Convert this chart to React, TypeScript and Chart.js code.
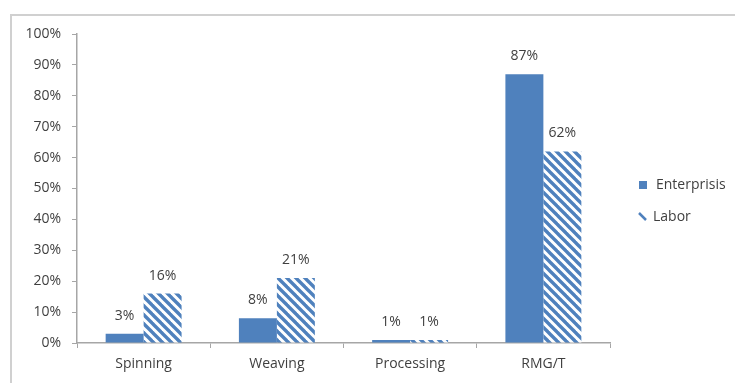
import React, { useEffect, useRef } from "react";
import { Chart, registerables } from "chart.js";

Chart.register(...registerables);

const categories = ["Spinning", "Weaving", "Processing", "RMG/T"];
const enterprisisValues = [3, 8, 1, 87];
const laborValues = [16, 21, 1, 62];
const yTicks = [0, 10, 20, 30, 40, 50, 60, 70, 80, 90, 100];

const BLUE = "#4F81BD";
const TEXT = "#3F3F3F";
const AXIS = "#A6A6A6";
const FONT = "'Open Sans', 'DejaVu Sans', sans-serif";
const FONT_SIZE = 14;

function makeHatch(): CanvasPattern | string {
  const size = 9;
  const c = document.createElement("canvas");
  c.width = size;
  c.height = size;
  const g = c.getContext("2d");
  if (!g) return BLUE;
  g.fillStyle = "#ffffff";
  g.fillRect(0, 0, size, size);
  g.strokeStyle = BLUE;
  g.lineWidth = 3.4;
  g.lineCap = "square";
  for (const off of [-size, 0, size]) {
    g.beginPath();
    g.moveTo(off, 0);
    g.lineTo(off + size, size);
    g.stroke();
  }
  const p = g.createPattern(c, "repeat");
  return p || BLUE;
}

const valueLabels = {
  id: "valueLabels",
  afterDatasetsDraw(chart: any) {
    const ctx = chart.ctx;
    ctx.save();
    ctx.fillStyle = TEXT;
    ctx.font = `${FONT_SIZE}px ${FONT}`;
    ctx.textAlign = "center";
    ctx.textBaseline = "middle";
    chart.data.datasets.forEach((ds: any, i: number) => {
      const meta = chart.getDatasetMeta(i);
      meta.data.forEach((bar: any, j: number) => {
        ctx.fillText(`${ds.data[j]}%`, bar.x, bar.y - 18);
      });
    });
    ctx.restore();
  },
};

const sideLegend = {
  id: "sideLegend",
  afterDraw(chart: any) {
    const ctx = chart.ctx;
    const x = chart.chartArea.right + 29;
    const y1 = 185;
    const y2 = 217;
    ctx.save();
    ctx.fillStyle = BLUE;
    ctx.fillRect(x, y1 - 4, 8, 8);
    ctx.strokeStyle = BLUE;
    ctx.lineWidth = 2.5;
    ctx.beginPath();
    ctx.moveTo(x, y2 - 4);
    ctx.lineTo(x + 7, y2 + 3);
    ctx.stroke();
    ctx.fillStyle = TEXT;
    ctx.font = `${FONT_SIZE}px ${FONT}`;
    ctx.textBaseline = "middle";
    ctx.textAlign = "left";
    ctx.fillText("Enterprisis", x + 17, y1);
    ctx.fillText("Labor", x + 14, y2);
    ctx.restore();
  },
};

export default function App() {
  const ref = useRef<HTMLCanvasElement>(null);

  useEffect(() => {
    document.body.style.margin = "0";
    const canvas = ref.current;
    if (!canvas) return;
    const chart = new Chart(canvas, {
      type: "bar",
      data: {
        labels: categories,
        datasets: [
          {
            label: "Enterprisis",
            data: enterprisisValues,
            backgroundColor: BLUE,
            categoryPercentage: 0.57,
            barPercentage: 1.0,
          },
          {
            label: "Labor",
            data: laborValues,
            backgroundColor: makeHatch() as any,
            categoryPercentage: 0.57,
            barPercentage: 1.0,
          },
        ],
      },
      options: {
        animation: false,
        responsive: false,
        maintainAspectRatio: false,
        layout: { padding: { left: 0, right: 125, top: 34, bottom: 0 } },
        plugins: {
          legend: { display: false },
          tooltip: { enabled: false },
        },
        scales: {
          x: {
            grid: {
              display: true,
              drawOnChartArea: false,
              drawTicks: true,
              tickLength: 5,
              color: AXIS,
              offset: true,
            },
            border: { color: AXIS, width: 1.5 },
            ticks: {
              color: TEXT,
              font: { family: FONT, size: FONT_SIZE },
              padding: 8,
            },
            afterFit(scale: any) {
              scale.height = 40;
            },
          },
          y: {
            min: 0,
            max: 100,
            afterBuildTicks(scale: any) {
              scale.ticks = yTicks.map((v) => ({ value: v }));
            },
            grid: {
              display: true,
              drawOnChartArea: false,
              drawTicks: true,
              tickLength: 5,
              color: AXIS,
            },
            border: { color: AXIS, width: 1.5 },
            ticks: {
              color: TEXT,
              font: { family: FONT, size: FONT_SIZE },
              padding: 11,
              callback: (v: any) => `${v}%`,
            },
            afterFit(scale: any) {
              scale.width = 77;
            },
          },
        },
      },
      plugins: [valueLabels, sideLegend],
    });
    return () => chart.destroy();
  }, []);

  return (
    <div
      style={{
        position: "absolute",
        left: 0,
        top: 0,
        width: 735,
        height: 383,
        background: "#ffffff",
        overflow: "hidden",
      }}
    >
      <div
        style={{
          position: "absolute",
          left: 10,
          top: 14,
          width: 760,
          height: 400,
          borderLeft: "2px solid #D0D0D0",
          borderTop: "2px solid #D0D0D0",
        }}
      />
      <canvas
        ref={ref}
        width={735}
        height={383}
        style={{ position: "absolute", left: 0, top: 0, width: 735, height: 383 }}
      />
    </div>
  );
}
